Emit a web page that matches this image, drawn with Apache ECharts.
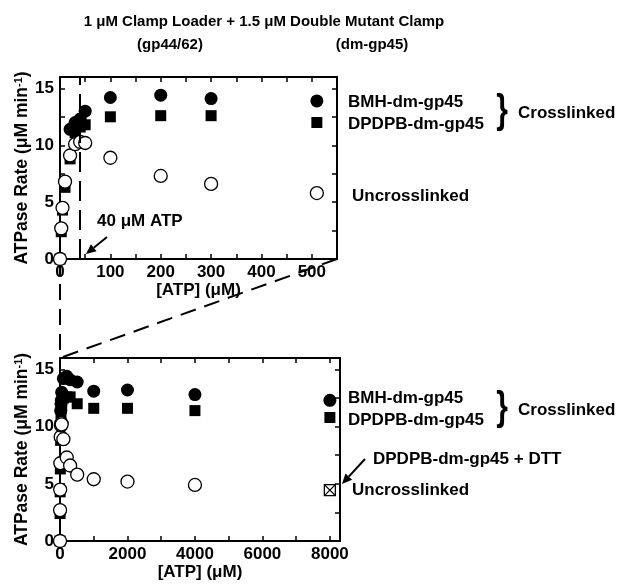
<!DOCTYPE html>
<html>
<head>
<meta charset="utf-8">
<script src="https://cdn.jsdelivr.net/npm/echarts@6/dist/echarts.min.js"></script>
<style>
  html, body { margin: 0; padding: 0; background: #fff; }
  #chart { width: 623px; height: 585px; }
</style>
</head>
<body>
<div id="chart"></div>
<script>
// ATP concentrations (µM) shared by the three titration series
const atp = [0, 2.5, 5, 10, 20, 30, 40, 50, 100, 200, 300, 510, 1000, 2000, 4000, 8000];
// ATPase rate (µM min^-1), BMH crosslinked clamp
const bmhRate = [0, 2.7, 4.5, 6.8, 11.4, 12.0, 12.3, 13.0, 14.2, 14.4, 14.1, 13.9, 13.1, 13.2, 12.8, 12.3];
// ATPase rate, DPDPB crosslinked clamp
const dpdpbRate = [0, 2.4, 4.3, 6.3, 8.8, 11.1, 11.6, 11.8, 12.5, 12.6, 12.6, 12.0, 11.6, 11.6, 11.4, 10.8];
// ATPase rate, uncrosslinked clamp
const uncrossRate = [0, 2.7, 4.5, 6.8, 9.1, 10.1, 10.3, 10.2, 8.9, 7.3, 6.6, 5.8, 5.4, 5.2, 4.9, null];
// DPDPB clamp after DTT reduction
const dttAtp = [8000];
const dttRate = [4.45];

// axis settings for the two panels (0–550 µM close-up and full range)
const xMaxes = [550, 8300];
const xSteps = [50, 1000];
const xLabelSteps = [100, 2000];
const yMax = 16;
const yStep = 2.5;
const yLabelStep = 5;

const FONT = '"Liberation Sans", Arial, Helvetica, sans-serif';
const BOLD17 = 'bold 17px ' + FONT;

const chart = echarts.init(document.getElementById('chart'), null, { renderer: 'canvas' });

function pairs(xs, ys, maxX) {
  const out = [];
  xs.forEach(function (x, i) {
    if (ys[i] != null && x <= maxX) out.push([x, ys[i]]);
  });
  return out;
}

const grids = [
  { left: 60, top: 77, width: 277, height: 182, outerBoundsMode: 'none', containLabel: false },
  { left: 60, top: 358, width: 280, height: 183, outerBoundsMode: 'none', containLabel: false }
];

const tickStyle = { show: true, inside: true, length: 5, lineStyle: { color: '#000', width: 1.5 } };
const lineStyle = { show: true, onZero: false, lineStyle: { color: '#000', width: 2 } };
const labelStyle = { color: '#000', fontSize: 17, fontWeight: 'bold', fontFamily: FONT };

const xAxes = [];
const yAxes = [];
[0, 1].forEach(function (g) {
  const xBase = {
    gridIndex: g, type: 'value', min: 0, max: xMaxes[g], interval: xSteps[g],
    splitLine: { show: false }, axisLine: lineStyle, axisTick: tickStyle
  };
  xAxes.push(Object.assign({}, xBase, {
    position: 'bottom',
    name: '[ATP] (μM)', nameLocation: 'middle', nameGap: g === 0 ? 14 : 23,
    nameTextStyle: labelStyle,
    axisLabel: Object.assign({}, labelStyle, {
      margin: 5,
      formatter: function (v) { return v % xLabelSteps[g] === 0 ? String(v) : ''; }
    })
  }));
  xAxes.push(Object.assign({}, xBase, { position: 'top', axisLabel: { show: false } }));

  const yBase = {
    gridIndex: g, type: 'value', min: 0, max: yMax, interval: yStep,
    splitLine: { show: false }, axisLine: lineStyle, axisTick: tickStyle
  };
  yAxes.push(Object.assign({}, yBase, {
    position: 'left',
    name: '{a|ATPase Rate (μM min}{s|-1}{a|)}', nameLocation: 'middle', nameGap: 29,
    nameTextStyle: {
      rich: {
        a: { fontSize: 17.5, fontWeight: 'bold', fontFamily: FONT, color: '#000' },
        s: { fontSize: 11, fontWeight: 'bold', fontFamily: FONT, color: '#000', verticalAlign: 'top' }
      }
    },
    axisLabel: Object.assign({}, labelStyle, {
      margin: 6,
      formatter: function (v) { return v % yLabelStep === 0 ? String(v) : ''; }
    })
  }));
  yAxes.push(Object.assign({}, yBase, { position: 'right', axisLabel: { show: false } }));
});

const series = [];
[0, 1].forEach(function (g) {
  const ax = { xAxisIndex: g * 2, yAxisIndex: g * 2, emphasis: { disabled: true } };
  const bmh = Object.assign({
    type: 'scatter', name: 'BMH-dm-gp45', data: pairs(atp, bmhRate, xMaxes[g]),
    symbol: 'circle', symbolSize: 13, itemStyle: { color: '#000', opacity: 1 }, z: 2
  }, ax);
  if (g === 0) {
    // 40 µM ATP reference line
    bmh.markLine = {
      silent: true, symbol: ['none', 'none'], label: { show: false },
      lineStyle: { color: '#000', width: 2, type: [20, 9], opacity: 1 },
      data: [{ xAxis: 40 }]
    };
  }
  series.push(bmh);
  series.push(Object.assign({
    type: 'scatter', name: 'DPDPB-dm-gp45', data: pairs(atp, dpdpbRate, xMaxes[g]),
    symbol: 'rect', symbolSize: 11, itemStyle: { color: '#000', opacity: 1 }, z: 3
  }, ax));
  series.push(Object.assign({
    type: 'scatter', name: 'Uncrosslinked', data: pairs(atp, uncrossRate, xMaxes[g]),
    symbol: 'circle', symbolSize: 13,
    itemStyle: { color: '#fff', borderColor: '#000', borderWidth: 1.3, opacity: 1 }, z: 4
  }, ax));
  if (g === 1) {
    series.push(Object.assign({
      type: 'scatter', name: 'DPDPB-dm-gp45 + DTT', data: pairs(dttAtp, dttRate, xMaxes[g]),
      symbol: 'path://M0,0H10V10H0Z M0,0L10,10 M10,0L0,10', symbolSize: 11,
      itemStyle: { color: '#fff', borderColor: '#000', borderWidth: 1.3, opacity: 1 }, z: 5
    }, ax));
  }
});

function text(str, x, y, opts) {
  return Object.assign({
    type: 'text', x: x, y: y, z: 10,
    style: { text: str, font: BOLD17, fill: '#000', align: 'left', verticalAlign: 'middle' }
  }, opts || {});
}

function brace(x, y) {
  return {
    type: 'text', x: x, y: y, scaleY: 1.35, z: 10,
    style: { text: '}', font: 'bold 30px ' + FONT, fill: '#000', align: 'center', verticalAlign: 'middle' }
  };
}

function arrow(x1, y1, x2, y2) {
  const dx = x2 - x1, dy = y2 - y1;
  const len = Math.sqrt(dx * dx + dy * dy);
  const ux = dx / len, uy = dy / len;
  const head = 10, half = 4.5;
  const bx = x2 - ux * head, by = y2 - uy * head;
  return {
    type: 'group', z: 10,
    children: [
      { type: 'line', shape: { x1: x1, y1: y1, x2: bx, y2: by }, style: { stroke: '#000', lineWidth: 2 } },
      { type: 'polygon', shape: { points: [[x2, y2], [bx - uy * half, by + ux * half], [bx + uy * half, by - ux * half]] },
        style: { fill: '#000' } }
    ]
  };
}

const titleFont = 'bold 15px ' + FONT;
const annotations = [
  { type: 'text', x: 264, y: 22, style: { text: '1 μM Clamp Loader + 1.5 μM Double Mutant Clamp', font: titleFont, fill: '#000', align: 'center', verticalAlign: 'middle' } },
  { type: 'text', x: 170, y: 45, style: { text: '(gp44/62)', font: titleFont, fill: '#000', align: 'center', verticalAlign: 'middle' } },
  { type: 'text', x: 372, y: 45, style: { text: '(dm-gp45)', font: titleFont, fill: '#000', align: 'center', verticalAlign: 'middle' } },

  text('BMH-dm-gp45', 348, 102),
  text('DPDPB-dm-gp45', 348, 124),
  brace(502, 112),
  text('Crosslinked', 518, 113),
  text('Uncrosslinked', 352, 196),
  text('40 μM ATP', 97, 221),
  arrow(107, 237, 86, 254),

  text('BMH-dm-gp45', 348, 398),
  text('DPDPB-dm-gp45', 348, 420),
  brace(502, 409),
  text('Crosslinked', 518, 410),
  text('DPDPB-dm-gp45 + DTT', 373, 459),
  text('Uncrosslinked', 352, 490),
  arrow(365, 459, 342, 484)
];

const option = {
  animation: false,
  backgroundColor: '#fff',
  grid: grids,
  xAxis: xAxes,
  yAxis: yAxes,
  series: series,
  graphic: annotations
};
chart.setOption(option);

// dashed connectors linking the close-up range to the full-range panel
const dash = [16, 9];
const topOrigin = chart.convertToPixel({ gridIndex: 0 }, [0, 0]);
const topEnd = chart.convertToPixel({ gridIndex: 0 }, [xMaxes[0], 0]);
const lowCorner = chart.convertToPixel({ gridIndex: 1 }, [0, yMax]);
chart.setOption({
  graphic: annotations.concat([
    { type: 'line', z: 1, shape: { x1: topOrigin[0], y1: topOrigin[1], x2: lowCorner[0], y2: lowCorner[1] },
      style: { stroke: '#000', lineWidth: 2, lineDash: dash } },
    { type: 'line', z: 1, shape: { x1: topEnd[0], y1: topEnd[1], x2: lowCorner[0], y2: lowCorner[1] },
      style: { stroke: '#000', lineWidth: 2, lineDash: dash } }
  ])
}, { replaceMerge: ['graphic'] });
</script>
</body>
</html>
